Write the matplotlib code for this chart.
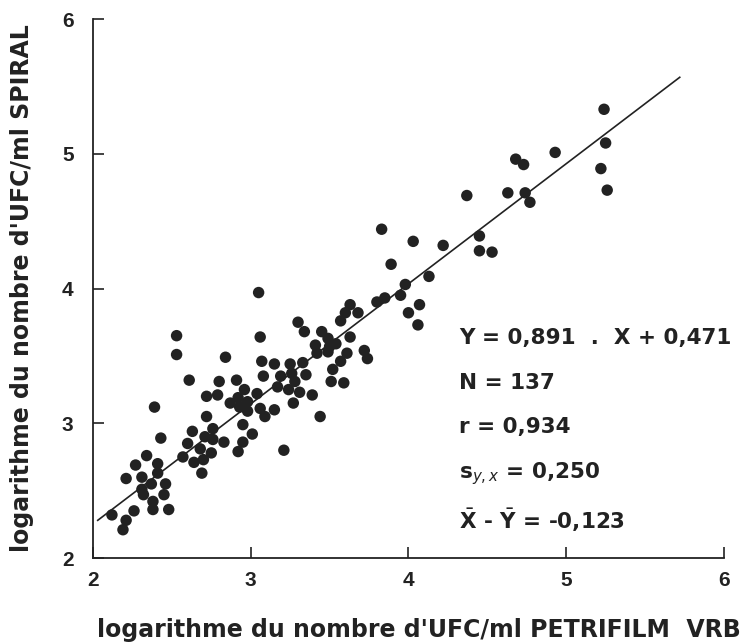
import numpy as np
import matplotlib
matplotlib.use("Agg")
import matplotlib.pyplot as plt

# log UFC/ml, PETRIFILM VRB (x) vs SPIRAL (y)
petrifilm = [
    2.19, 2.21, 2.12, 2.26, 2.38, 2.48, 2.38, 2.32, 2.45, 2.31, 2.37, 2.46, 2.31, 2.21,
    2.41, 2.27, 2.41, 2.34, 2.43, 2.39, 2.53, 2.53,
    2.84, 2.61, 2.80, 2.91, 3.07, 3.15, 3.08, 3.25, 3.33, 3.35, 3.26, 3.19, 3.17, 3.28,
    3.24, 3.31, 3.27, 2.72, 2.79, 2.96, 3.04, 2.87, 2.92, 2.98, 2.93, 2.98, 3.06, 3.09,
    3.15, 2.72, 2.95, 3.01, 2.76, 2.63, 2.71, 2.83, 2.76, 2.95, 2.92, 3.21, 2.60, 2.68,
    2.57, 2.64, 2.70, 2.69, 2.75, 3.06,
    3.63, 3.60, 3.68, 3.57, 3.80, 3.85, 3.95, 3.30, 3.34, 3.45, 3.49, 3.41, 3.50, 3.54,
    3.63, 3.42, 3.49, 3.61, 3.72, 3.74, 3.57, 3.52, 3.51, 3.59, 3.39, 3.44, 3.05,
    3.83, 4.03, 4.22, 3.89, 4.13, 3.98, 4.07, 4.00, 4.06,
    5.24, 5.25, 5.22, 5.26, 4.93, 4.68, 4.73, 4.74, 4.77, 4.63, 4.37, 4.45, 4.45, 4.53,
]
spiral = [
    2.21, 2.28, 2.32, 2.35, 2.36, 2.36, 2.42, 2.47, 2.47, 2.51, 2.55, 2.55, 2.60, 2.59,
    2.63, 2.69, 2.70, 2.76, 2.89, 3.12, 3.65, 3.51,
    3.49, 3.32, 3.31, 3.32, 3.46, 3.44, 3.35, 3.44, 3.45, 3.36, 3.37, 3.35, 3.27, 3.31,
    3.25, 3.23, 3.15, 3.20, 3.21, 3.25, 3.22, 3.15, 3.19, 3.16, 3.12, 3.09, 3.11, 3.05,
    3.10, 3.05, 2.99, 2.92, 2.96, 2.94, 2.90, 2.86, 2.88, 2.86, 2.79, 2.80, 2.85, 2.81,
    2.75, 2.71, 2.73, 2.63, 2.78, 3.64,
    3.88, 3.82, 3.82, 3.76, 3.90, 3.93, 3.95, 3.75, 3.68, 3.68, 3.63, 3.58, 3.57, 3.59,
    3.64, 3.52, 3.53, 3.52, 3.54, 3.48, 3.46, 3.40, 3.31, 3.30, 3.21, 3.05, 3.97,
    4.44, 4.35, 4.32, 4.18, 4.09, 4.03, 3.88, 3.82, 3.73,
    5.33, 5.08, 4.89, 4.73, 5.01, 4.96, 4.92, 4.71, 4.64, 4.71, 4.69, 4.39, 4.28, 4.27,
]

slope = 0.891
intercept = 0.471
line_x = [2.03, 5.72]

ticks = [2, 3, 4, 5, 6]
tick_labels = ['2', '3', '4', '5', '6']

stats_lines = [
    "Y = 0,891  .  X + 0,471",
    "N = 137",
    "r = 0,934",
    "s$_{y,x}$ = 0,250",
    r"$\bar{\mathbf{X}}$ - $\bar{\mathbf{Y}}$ = -0,123",
]
stats_y = [3.63, 3.30, 2.97, 2.63, 2.28]

plt.rcParams['font.family'] = ['DejaVu Sans']
plt.rcParams['mathtext.fontset'] = 'dejavusans'

fig = plt.figure(figsize=(7.44, 6.42), dpi=100)
ax = fig.add_axes([0.125, 0.1308, 0.848, 0.8396])

ink = '#222222'
ax.scatter(petrifilm, spiral, s=68, color=ink, edgecolors='none', zorder=3)

lx = np.array(line_x)
ax.plot(lx, slope * lx + intercept, color=ink, linewidth=1.2, zorder=2)

ax.set_xlim(2, 6)
ax.set_ylim(2, 6)
tick_font = dict(fontfamily='Liberation Sans', fontweight='bold', fontsize=15, color=ink)
ax.set_xticks(ticks, labels=tick_labels, **tick_font)
ax.set_yticks(ticks, labels=tick_labels, **tick_font)
for side in ['top', 'right']:
    ax.spines[side].set_visible(False)
for side in ['left', 'bottom']:
    ax.spines[side].set_linewidth(1.3)
    ax.spines[side].set_color(ink)

ax.tick_params(direction='in', length=8, width=1.2, color=ink)
ax.tick_params(axis='y', pad=14)
ax.tick_params(axis='x', pad=9)

for txt, yy in zip(stats_lines, stats_y):
    ax.text(4.32, yy, txt, fontsize=15.5, fontweight='bold', color=ink,
            ha='left', va='center')

fig.text(0.563, 0.019, "logarithme du nombre d'UFC/ml PETRIFILM  VRB",
         fontsize=17, fontweight='bold', color=ink, ha='center', va='center')
fig.text(0.03, 0.551, "logarithme du nombre d'UFC/ml SPIRAL", rotation=90,
         fontsize=17, fontweight='bold', color=ink, ha='center', va='center')

fig.savefig('out.png', dpi=100)
